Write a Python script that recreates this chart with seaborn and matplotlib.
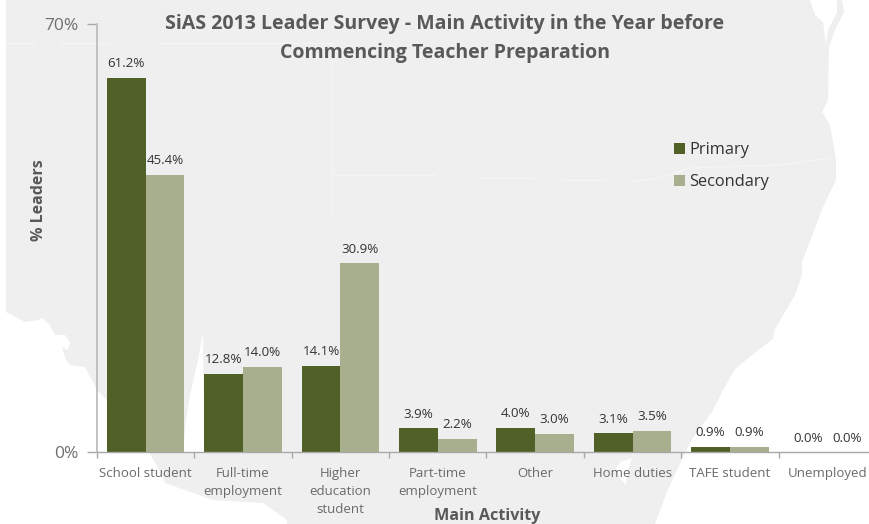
import matplotlib
matplotlib.use("Agg")
import matplotlib.pyplot as plt
from matplotlib.patches import Polygon, Rectangle
from matplotlib.lines import Line2D
import pandas as pd
import seaborn as sns

categories = ["School student", "Full-time\nemployment", "Higher\neducation\nstudent",
              "Part-time\nemployment", "Other", "Home duties", "TAFE student", "Unemployed"]
primary = [61.2, 12.8, 14.1, 3.9, 4.0, 3.1, 0.9, 0.0]
secondary = [45.4, 14.0, 30.9, 2.2, 3.0, 3.5, 0.9, 0.0]
series_names = ["Primary", "Secondary"]
series_colors = ["#506027", "#A7AF8F"]
title_text = "SiAS 2013 Leader Survey - Main Activity in the Year before\nCommencing Teacher Preparation"

# faint map silhouette behind the chart (pixel outline of the decoration)
land_outline = [(6, 0), (842, 0), (844, 12), (835, 30), (829, 48), (828, 100), (822, 112), (830, 125), (836, 160),
                (836, 180), (823, 207), (802, 262), (802, 275), (795, 295), (775, 329), (773, 339),
                (752, 355), (735, 369), (722, 392), (712, 412), (692, 439), (668, 489), (655, 524),
                (287, 524), (287, 520), (263, 503), (213, 500), (165, 483), (163, 477), (148, 450),
                (128, 423), (97, 390), (92, 380), (85, 367), (70, 365), (65, 358), (62, 347), (68, 350),
                (70, 342), (65, 335), (55, 335), (50, 325), (42, 318), (38, 320), (25, 322), (12, 315), (6, 312)]
inlet_outline = [(810, 0), (837, 0), (837, 12), (828, 30), (826, 45), (823, 22), (815, 15)]
gulf_outline = [(203, 332), (204, 452), (183, 452), (186, 420), (190, 395), (198, 360)]
lake_outline = [(620, 462), (632, 458), (628, 470), (626, 485), (620, 478), (616, 468)]
border_segments = [[(6, 43), (35, 43)], [(60, 43), (110, 43)], [(158, 43), (332, 43)], [(332, 60), (332, 215)],
                   [(332, 175), (435, 175)], [(478, 178), (535, 178)], [(563, 180), (605, 180)],
                   [(630, 182), (660, 178), (690, 168), (780, 165), (830, 158)]]

sns.set_theme(style="white")
plt.rcParams["font.family"] = ["Open Sans", "DejaVu Sans"]

W, H = 870, 524
fig = plt.figure(figsize=(W / 100, H / 100), dpi=100, facecolor="white")
def to_fig(pts):
    return [(x / W, 1 - y / H) for x, y in pts]
fig.add_artist(Polygon(to_fig(land_outline), closed=True, fc="#EFEFEF", ec="none", zorder=-3))
for outline in (inlet_outline, gulf_outline, lake_outline):
    fig.add_artist(Polygon(to_fig(outline), closed=True, fc="white", ec="none", zorder=-2))
for seg in border_segments:
    pts = to_fig(seg)
    fig.add_artist(Line2D([p[0] for p in pts], [p[1] for p in pts], color="#F5F5F5", lw=1, zorder=-2))

left, right, top, bottom = 97, 876, 24, 452.3
ax = fig.add_axes([left / W, 1 - bottom / H, (right - left) / W, (bottom - top) / H])
ax.patch.set_alpha(0)

df = pd.DataFrame({"Main Activity": categories * 2,
                   "value": primary + secondary,
                   "series": [series_names[0]] * len(primary) + [series_names[1]] * len(secondary)})
sns.barplot(data=df, x="Main Activity", y="value", hue="series", palette=series_colors,
            width=0.795, gap=0, saturation=1, ax=ax, legend=False, dodge=True, linewidth=0)

ax.set_ylim(0, 70)
ax.set_xlim(-0.5, len(categories) - 0.5)
ax.set_yticks([0, 70], ["0%", "70%"])
ax.tick_params(axis="y", length=7, width=1, color="#A8A8A8", labelcolor="#6F6F6F", labelsize=12.5, pad=6.5, left=True)
ax.set_xticks([i - 0.5 for i in range(len(categories) + 1)], minor=False)
ax.set_xticklabels([""] * (len(categories) + 1))
ax.tick_params(axis="x", length=4, width=1, color="#A8A8A8", bottom=True)
ax.set_xlabel("")
ax.set_ylabel("")
for i, c in enumerate(categories):
    ax.annotate(c, xy=(i, 0), xytext=(0, -10.5), textcoords="offset points", ha="center", va="top",
                fontsize=9.5, color="#6A6A6A", linespacing=1.52, annotation_clip=False)
for s in ("top", "right"):
    ax.spines[s].set_visible(False)
ax.spines["left"].set_color("#BDBDBD")
ax.spines["left"].set_linewidth(1.3)
ax.spines["bottom"].set_color("#A8A8A8")
ax.spines["bottom"].set_linewidth(1)

for cont in ax.containers:
    ax.bar_label(cont, fmt="%.1f%%", padding=5.5, fontsize=9.6, color="#333333")

fig.text(445 / W, 1 - 38.5 / H, title_text, ha="center", va="center", fontsize=14, fontweight="bold",
         color="#595959", linespacing=1.55)
fig.text(39 / W, 1 - 200 / H, "% Leaders", rotation=90, ha="center", va="center", fontsize=11.5,
         fontweight="bold", color="#595959")
fig.text(487 / W, 1 - 516 / H, "Main Activity", ha="center", va="center", fontsize=11.6,
         fontweight="bold", color="#595959")

for name, color, y in zip(series_names, series_colors, (148.5, 180.5)):
    fig.add_artist(Rectangle((673.5 / W, 1 - (y + 5.5) / H), 11 / W, 11 / H, fc=color, ec="none"))
    fig.text(689 / W, 1 - (y + 1.5) / H, name, ha="left", va="center", fontsize=11.8, color="#333333")

fig.savefig("out.png", dpi=100, facecolor="white")
